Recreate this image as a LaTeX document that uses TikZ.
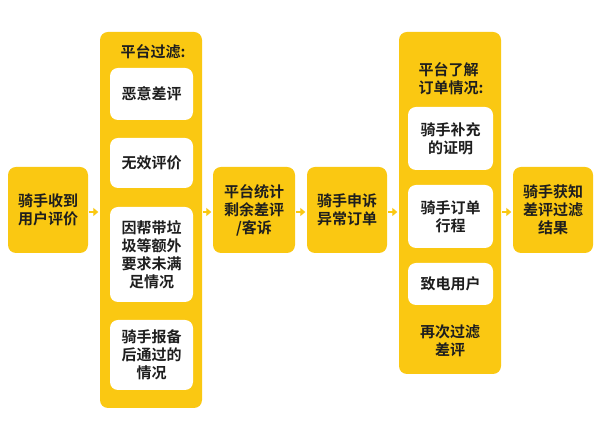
\documentclass[tikz,border=0pt]{standalone}
\usepackage{fontspec}
\usepackage{tikz}
\usetikzlibrary{arrows.meta, positioning}
\newfontfamily\cjk{Noto Sans CJK SC Bold}
\definecolor{gold}{RGB}{250,200,18}
\definecolor{ink}{RGB}{30,30,30}

\begin{document}
\begin{tikzpicture}[x=1pt, y=1pt,
  font=\cjk\fontsize{15}{18}\selectfont,
  stepbox/.style={rectangle, rounded corners=8pt, fill=gold, text=ink,
    align=center, minimum height=86pt, inner sep=0pt},
  colbox/.style={rectangle, rounded corners=8pt, fill=gold, minimum width=102pt},
  itembox/.style={rectangle, rounded corners=8pt, fill=white, text=ink,
    align=center, inner sep=0pt},
  arr/.style={line width=2.4pt, draw=gold, -{Triangle[length=5pt, width=8pt]},
    shorten <=1pt, shorten >=1.5pt}]
  \useasboundingbox[fill=white] (0,0) rectangle (600,444);
  % left step
  \node[stepbox, minimum width=80pt] (recv) at (48,234) {骑手收到\\用户评价};
  % platform filter column
  \node[colbox, minimum height=376pt] (filter) at (151,224) {};
  \node[text=ink] (filtertitle) at (153,392) {平台过滤:};
  \node[itembox, minimum width=83pt, minimum height=52pt] (malice) at (151.5,350) {恶意差评};
  \node[itembox, minimum width=83pt, minimum height=50pt] (invalid) at (151.5,281) {无效评价};
  \node[itembox, minimum width=83pt, minimum height=95pt] (extra) at (151.5,189.5) {因帮带垃\\圾等额外\\要求未满\\足情况};
  \node[itembox, minimum width=83pt, minimum height=70pt] (report) at (151.5,89) {骑手报备\\后通过的\\情况};
  % middle steps
  \node[stepbox, minimum width=82pt] (count) at (254,234) {平台统计\\剩余差评\\/客诉};
  \node[stepbox, minimum width=80pt] (appeal) at (347,234) {骑手申诉\\异常订单};
  % platform check column
  \node[colbox, minimum height=342pt] (check) at (450,241) {};
  \node[text=ink, align=left] (checktitle) at (451,365) {平台了解\\订单情况:};
  \node[itembox, minimum width=85pt, minimum height=63pt] (proof) at (450.5,305.5) {骑手补充\\的证明};
  \node[itembox, minimum width=85pt, minimum height=63pt] (route) at (450.5,227.5) {骑手订单\\行程};
  \node[itembox, minimum width=85pt, minimum height=42pt] (call) at (450.5,160) {致电用户};
  \node[text=ink, align=center] (refilter) at (450,103) {再次过滤\\差评};
  % result
  \node[stepbox, minimum width=80pt] (result) at (553,234) {骑手获知\\差评过滤\\结果};
  % arrows
  \coordinate (a1) at (0,232);
  \draw[arr] (recv.east |- a1) -- (filter.west |- a1);
  \draw[arr] (filter.east |- a1) -- (count.west |- a1);
  \draw[arr] (count.east |- a1) -- (appeal.west |- a1);
  \draw[arr] (appeal.east |- a1) -- (check.west |- a1);
  \draw[arr] (check.east |- a1) -- (result.west |- a1);
\end{tikzpicture}
\end{document}
